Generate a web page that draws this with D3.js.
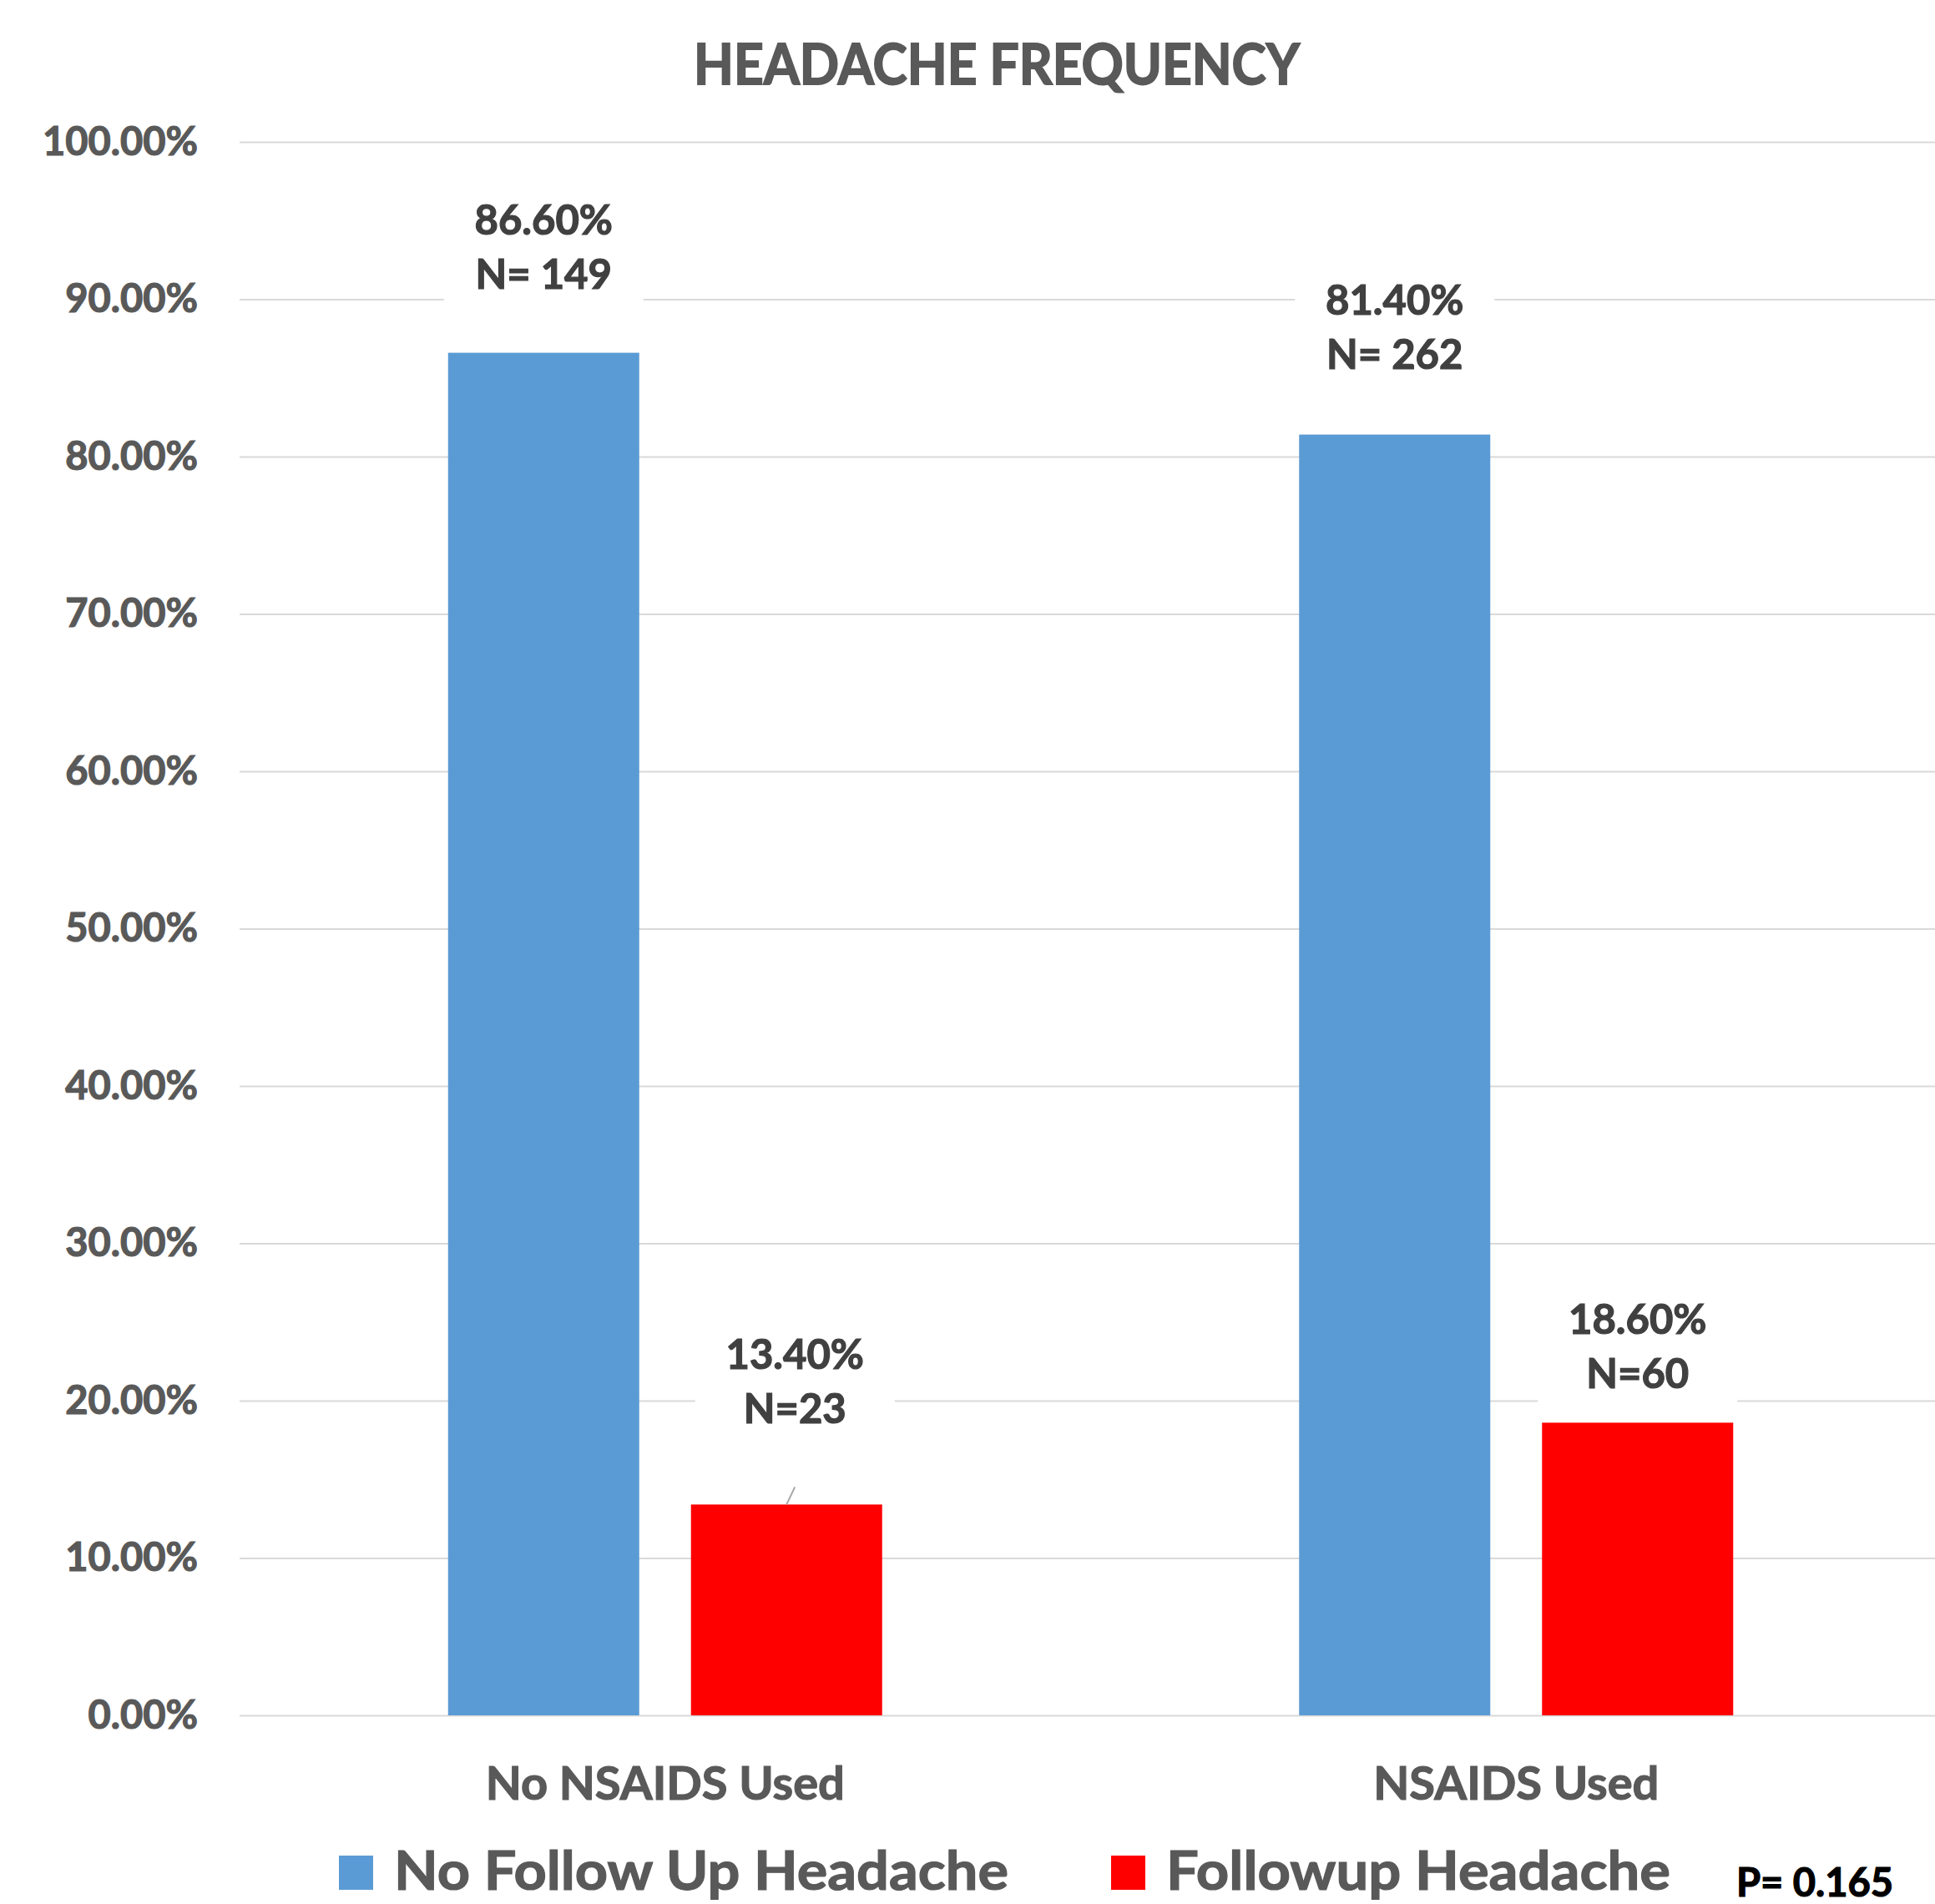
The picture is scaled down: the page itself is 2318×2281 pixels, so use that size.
<!DOCTYPE html>
<html>
<head>
<meta charset="utf-8">
<script src="https://cdn.jsdelivr.net/npm/d3@7"></script>
<style>
  body { margin: 0; background: #fff; }
  svg text { font-family: Lato, "Open Sans", sans-serif; font-weight: 700; stroke-width: 1.2px; }
</style>
</head>
<body>
<div id="chart"></div>
<script>
(function(){

    // data
    var categories = ["No NSAIDS Used", "NSAIDS Used"];
    var seriesNames = ["No Follow Up Headache", "Followup Headache"];
    var noFollowUp = [0.866, 0.814];
    var followUp = [0.134, 0.186];
    var nNoFollowUp = ["N= 149", "N= 262"];
    var nFollowUp = ["N=23", "N=60"];
    var yTicks = [0, 0.1, 0.2, 0.3, 0.4, 0.5, 0.6, 0.7, 0.8, 0.9, 1.0];
    var pValue = "P= 0.165";
    var colors = ["#5b9bd5", "#ff0000"];

    // labels were dragged by hand in the original: lift above bar and x nudge
    var labelLift = [[77, 97], [79, 41]];
    var labelDx = [[0, 10], [0, 0]];

    var W = 2318, H = 2281;
    var margin = {top: 170, right: -8, bottom: 226, left: 287};
    var width = W - margin.left - margin.right,
        height = H - margin.top - margin.bottom;

    var svg = d3.select("#chart").append("svg")
        .attr("width", W)
        .attr("height", H);

    var g = svg.append("g")
        .attr("transform", "translate(" + margin.left + "," + margin.top + ")");

    var x0 = d3.scaleBand().domain(categories).range([0, width]);
    var x1 = d3.scaleBand().domain(seriesNames)
        .range([(x0.bandwidth() - 520) / 2, (x0.bandwidth() + 520) / 2])
        .paddingInner(0.213);
    var y = d3.scaleLinear().domain([0, 1]).range([height, 0]);

    // gridlines + y labels
    var yAxis = g.append("g")
        .call(d3.axisLeft(y).tickValues(yTicks).tickFormat(d3.format(".2%"))
            .tickSize(-width).tickPadding(50));
    yAxis.select(".domain").remove();
    yAxis.selectAll(".tick line").attr("stroke", "#d9d9d9").attr("stroke-width", 2);
    yAxis.selectAll(".tick text")
        .attr("fill", "#595959")
        .attr("stroke", "#595959")
        .style("font-size", "47px");

    // category labels
    var xAxis = g.append("g")
        .attr("transform", "translate(0," + height + ")")
        .call(d3.axisBottom(x0).tickSize(0).tickPadding(61));
    xAxis.select(".domain").remove();
    xAxis.selectAll(".tick text")
        .attr("fill", "#595959")
        .attr("stroke", "#595959")
        .style("font-size", "56px");

    var rows = categories.map(function(c, i) {
        return [
            {cat: c, s: seriesNames[0], v: noFollowUp[i], n: nNoFollowUp[i], lift: labelLift[i][0], dx: labelDx[i][0], k: 0},
            {cat: c, s: seriesNames[1], v: followUp[i], n: nFollowUp[i], lift: labelLift[i][1], dx: labelDx[i][1], k: 1}
        ];
    });

    var group = g.selectAll(".grp")
        .data(rows)
      .enter().append("g")
        .attr("class", "grp")
        .attr("transform", function(d, i) { return "translate(" + x0(categories[i]) + ",0)"; });

    group.selectAll("rect.bar")
        .data(function(d) { return d; })
      .enter().append("rect")
        .attr("class", "bar")
        .attr("x", function(d) { return x1(d.s); })
        .attr("y", function(d) { return y(d.v); })
        .attr("width", x1.bandwidth())
        .attr("height", function(d) { return height - y(d.v); })
        .attr("fill", function(d) { return colors[d.k]; });

    // data labels
    var lab = group.selectAll("g.lab")
        .data(function(d) { return d; })
      .enter().append("g")
        .attr("class", "lab")
        .attr("transform", function(d) {
            var cx = x1(d.s) + x1.bandwidth() / 2 + d.dx;
            return "translate(" + cx + "," + (y(d.v) - d.lift) + ")";
        });

    lab.append("rect")
        .attr("x", -x1.bandwidth() / 2 - 5)
        .attr("y", -65 - 35 - 12)
        .attr("width", x1.bandwidth() + 10)
        .attr("height", 65 + 35 + 12 + 20)
        .attr("fill", "#fff");

    lab.append("text")
        .attr("text-anchor", "middle")
        .attr("y", -65)
        .attr("fill", "#404040")
        .attr("stroke", "#404040")
        .style("font-size", "49px")
        .text(function(d) { return d3.format(".2%")(d.v); });

    lab.append("text")
        .attr("text-anchor", "middle")
        .attr("y", 0)
        .attr("fill", "#404040")
        .attr("stroke", "#404040")
        .style("font-size", "49px")
        .text(function(d) { return d.n; });

    // leader line for the moved label
    lab.filter(function(d) { return d.dx !== 0; })
        .append("line")
        .attr("x1", 0)
        .attr("y1", 76)
        .attr("x2", function(d) { return -d.dx; })
        .attr("y2", function(d) { return d.lift; })
        .attr("stroke", "#a6a6a6")
        .attr("stroke-width", 2);

    // title
    svg.append("text")
        .attr("x", 1194)
        .attr("y", 101)
        .attr("text-anchor", "middle")
        .attr("fill", "#595959")
        .attr("stroke", "#595959")
        .style("stroke-width", "1.8px")
        .style("font-size", "66px")
        .attr("textLength", 726)
        .attr("lengthAdjust", "spacingAndGlyphs")
        .text("HEADACHE FREQUENCY");

    // legend
    var legendX = [406, 1331];
    var legendW = [736, 604];
    var leg = svg.selectAll(".legend")
        .data(seriesNames)
      .enter().append("g")
        .attr("class", "legend")
        .attr("transform", function(d, i) { return "translate(" + legendX[i] + ",2223)"; });
    leg.append("rect")
        .attr("width", 41)
        .attr("height", 41)
        .attr("fill", function(d, i) { return colors[i]; });
    leg.append("text")
        .attr("x", 66)
        .attr("y", 41)
        .attr("fill", "#595959")
        .attr("stroke", "#595959")
        .style("font-size", "65px")
        .attr("textLength", function(d, i) { return legendW[i]; })
        .attr("lengthAdjust", "spacingAndGlyphs")
        .text(function(d) { return d; });

    svg.append("text")
        .attr("x", 2080)
        .attr("y", 2272)
        .attr("fill", "#000")
        .attr("stroke", "#000")
        .style("font-size", "47px")
        .text(pValue);

})();
</script>
</body>
</html>
